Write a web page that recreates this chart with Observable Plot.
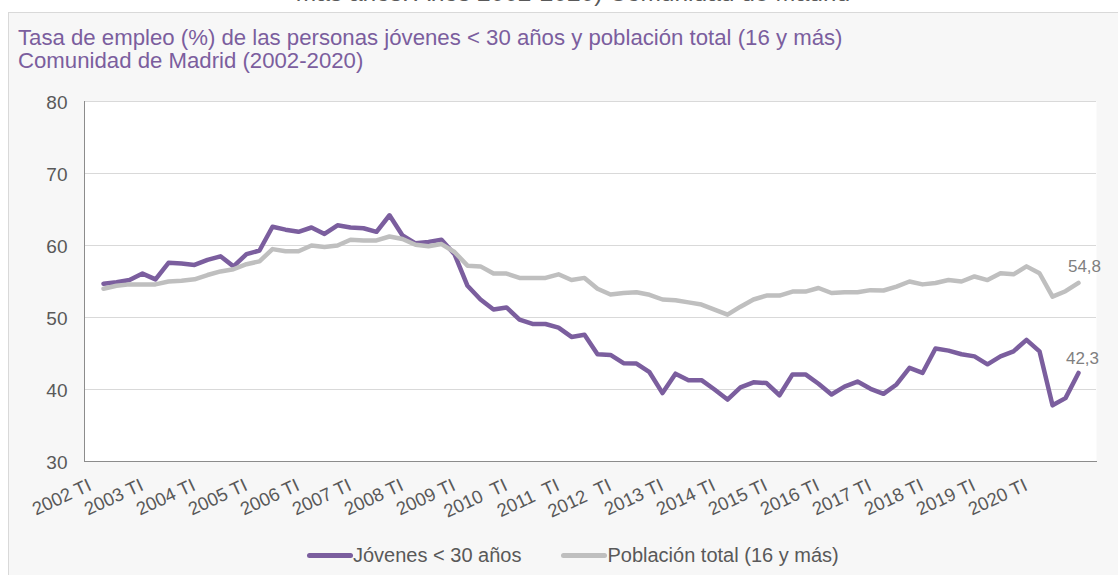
<!DOCTYPE html>
<html><head><meta charset="utf-8">
<script src="https://cdn.jsdelivr.net/npm/d3@7"></script>
<script src="https://cdn.jsdelivr.net/npm/@observablehq/plot@0.6"></script>
<style>
body{margin:0;background:#fff;font-family:"Liberation Sans",Arial,sans-serif;}
#wrap{position:relative;width:1118px;height:575px;overflow:hidden;}
#box{position:absolute;left:8px;top:12px;width:1200px;height:700px;background:#f7f7f7;border:1px solid #d9d9d9;}
#cut{position:absolute;top:-19px;left:0;width:1146px;text-align:center;font-size:24.5px;line-height:24.5px;color:#595959;white-space:nowrap;}
#title{position:absolute;left:18px;top:27px;font-size:22.2px;line-height:22.5px;color:#7b5e9e;white-space:nowrap;}
#chart{position:absolute;left:0;top:0;}
#legend{position:absolute;left:307px;top:545px;height:20px;display:flex;align-items:center;font-size:20px;color:#595959;white-space:nowrap;}
.sw{display:inline-block;width:46px;height:5px;border-radius:3px;}
</style></head>
<body>
<div id="wrap">
  <div id="cut">más años. Años 2002-2020) Comunidad de Madrid</div>
  <div id="box"></div>
  <div id="title">Tasa de empleo (%) de las personas jóvenes &lt; 30 años y población total (16 y más)<br>Comunidad de Madrid (2002-2020)</div>
  <div id="chart"></div>
  <div id="legend">
    <span class="sw" style="background:#7b5e9e"></span><span>Jóvenes &lt; 30 años</span>
    <span class="sw" style="background:#bfbfbf;margin-left:40px"></span><span>Población total (16 y más)</span>
  </div>
</div>
<script>
const years = [2002,2003,2004,2005,2006,2007,2008,2009,2010,2011,2012,2013,2014,2015,2016,2017,2018,2019,2020];
const quarterNames = ["TI","TII","TIII","TIV"];
const yTicks = [30,40,50,60,70,80];
const gridTicks = [40,50,60,70,80];

const jovenes = [
  54.7,54.9,55.2,56.1, 55.3,57.6,57.5,57.3, 58.0,58.5,57.1,58.8, 59.3,62.6,62.2,61.9,
  62.5,61.6,62.8,62.5, 62.4,61.9,64.2,61.4, 60.3,60.5,60.8,58.8, 54.4,52.5,51.1,51.4,
  49.7,49.1,49.1,48.6, 47.3,47.6,44.9,44.8, 43.65,43.6,42.4,39.5, 42.2,41.3,41.3,40.0,
  38.6,40.3,41.0,40.9, 39.2,42.1,42.1,40.8, 39.3,40.4,41.1,40.1, 39.4,40.7,43.0,42.3,
  45.7,45.4,44.9,44.6, 43.5,44.6,45.3,46.9, 45.3,37.8,38.8,42.3
];
const poblacion = [
  54.0,54.4,54.6,54.6, 54.6,55.0,55.1,55.3, 55.9,56.4,56.7,57.4, 57.8,59.5,59.2,59.2,
  60.0,59.8,60.0,60.8, 60.7,60.7,61.25,60.9, 60.1,59.9,60.2,59.1, 57.2,57.1,56.1,56.1,
  55.5,55.5,55.5,56.0, 55.2,55.5,54.0,53.2, 53.4,53.5,53.15,52.5, 52.4,52.1,51.8,51.1,
  50.4,51.5,52.5,53.05, 53.05,53.6,53.6,54.1, 53.4,53.5,53.5,53.8, 53.75,54.3,55.0,54.6,
  54.8,55.2,55.0,55.7, 55.2,56.15,56.0,57.1, 56.15,52.9,53.65,54.8
];

const labels = years.flatMap(y => quarterNames.map(q => `${y} ${q}`));
const data = labels.map((q, i) => ({q, jov: jovenes[i], pob: poblacion[i]}));
const tickData = years.map(y => ({q: `${y} TI`, label: (y >= 2010 && y <= 2012) ? `${y}\u00a0 TI` : `${y} TI`}));
const last = data[data.length - 1];
const fmt = v => v.toFixed(1).replace(".", ",");

const chart = Plot.plot({
  width: 1118, height: 575,
  marginTop: 101, marginBottom: 114, marginLeft: 84, marginRight: 22,
  style: {background: "transparent", fontFamily: "'Liberation Sans', Arial, sans-serif", overflow: "visible"},
  x: {type: "point", domain: labels, padding: 0.5, axis: null},
  y: {domain: [30, 80], axis: null},
  marks: [
    Plot.frame({fill: "white", stroke: null}),
    Plot.ruleY(gridTicks, {stroke: "#d9d9d9", strokeWidth: 1.2}),
    Plot.frame({anchor: "left", stroke: "#8c8c8c"}),
    Plot.frame({anchor: "bottom", stroke: "#8c8c8c"}),
    Plot.text(yTicks, {y: d => d, frameAnchor: "left", dx: -17, dy: 1, textAnchor: "end", fontSize: 19, fill: "#595959", text: d => String(d)}),
    Plot.text(tickData, {x: "q", frameAnchor: "bottom", text: "label", dx: -10.9, dy: 28, rotate: -25, textAnchor: "end", lineAnchor: "bottom", fontSize: 18.5, fill: "#595959"}),
    Plot.line(data, {x: "q", y: "jov", stroke: "#7b5e9e", strokeWidth: 4.5, strokeLinejoin: "round"}),
    Plot.line(data, {x: "q", y: "pob", stroke: "#bfbfbf", strokeWidth: 4.5, strokeLinejoin: "round"}),
    Plot.text([last], {x: "q", y: "pob", text: d => fmt(d.pob), dx: 6, dy: -16, fontSize: 17, fill: "#7f7f7f"}),
    Plot.text([last], {x: "q", y: "jov", text: d => fmt(d.jov), dx: 4, dy: -14, fontSize: 17, fill: "#7f7f7f"})
  ]
});
document.getElementById("chart").appendChild(chart);
</script>
</body></html>
